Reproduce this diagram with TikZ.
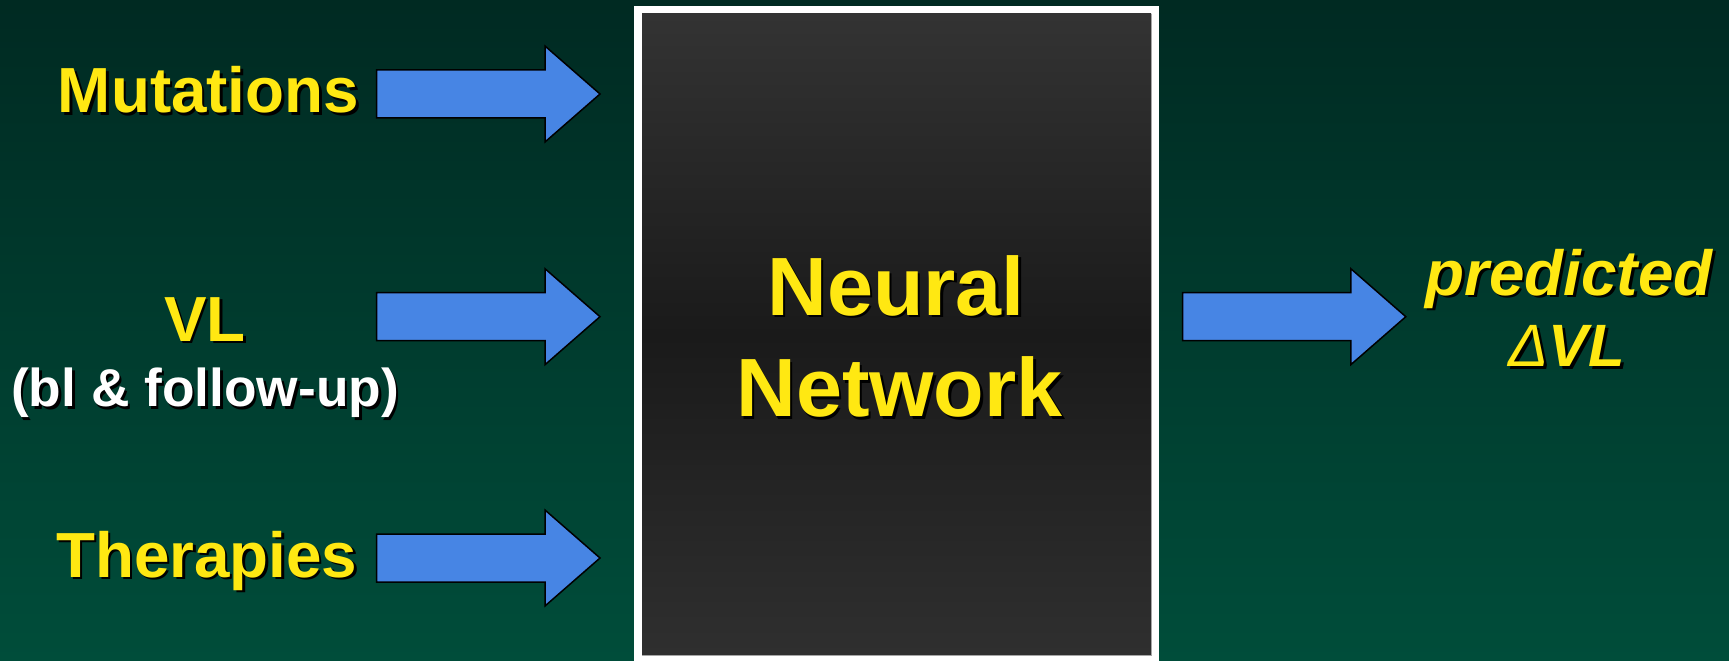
\documentclass[tikz,border=0pt]{standalone}
\usepackage{fontspec}
\setmainfont{Liberation Sans}
\definecolor{bgtop}{RGB}{0,42,34}
\definecolor{bgbot}{RGB}{0,77,58}
\definecolor{boxtop}{RGB}{51,51,51}
\definecolor{boxmid}{RGB}{26,26,26}
\definecolor{boxbot}{RGB}{47,47,47}
\definecolor{arrowblue}{RGB}{71,133,228}
\definecolor{labelyellow}{RGB}{255,232,18}
\newcommand{\shadowtext}[2]{\makebox[0pt][l]{\hspace{2.6bp}\raisebox{-2.6bp}{\color{black}#2}}\textcolor{#1}{#2}}
\tikzset{pics/blockarrow/.style={code={
  \draw[arrowfill] (0,-24) -- (168.3,-24) -- (168.3,-48) -- (223.3,0) -- (168.3,48) -- (168.3,24) -- (0,24) -- cycle;
}}}
\begin{document}
\begin{tikzpicture}[x=1bp, y=-1bp,
  every node/.style={inner sep=0pt, outer sep=0pt, anchor=base},
  inlabel/.style={font=\fontsize{64}{76}\selectfont\bfseries},
  smalllabel/.style={font=\fontsize{53.5}{64}\selectfont\bfseries},
  boxlabel/.style={font=\fontsize{83}{100}\selectfont\bfseries},
  outlabel/.style={font=\fontsize{64}{76}\selectfont\bfseries\itshape},
  arrowfill/.style={fill=arrowblue, draw=black, line width=1.5bp, line join=miter}]
\useasboundingbox (0,0) rectangle (1729,661);
% Background
\shade[top color=bgtop, bottom color=bgbot] (0,0) rectangle (1729,661);

% Neural network box
\fill[white] (634,6) rectangle (1159,661);
\shade[top color=boxtop, bottom color=boxbot, middle color=boxmid] (642,14) rectangle (1151,655);
\draw[black!35, line width=1bp] (1151,14) -- (1151,655) -- (642,655);
\node[boxlabel] (neural) at (896,315) {\shadowtext{labelyellow}{Neural}};
\node[boxlabel] (network) at (899.5,416.7) {\shadowtext{labelyellow}{Network}};

% Inputs top to bottom
\node[inlabel] (mutations) at (208.5,112.7) {\shadowtext{labelyellow}{Mutations}};
\node[inlabel] (vl) at (205,341) {\shadowtext{labelyellow}{VL}};
\node[smalllabel] (vlnote) at (205,406.7) {\shadowtext{white}{(bl \& follow-up)}};
\node[inlabel] (therapies) at (206.7,577.3) {\shadowtext{labelyellow}{Therapies}};

% Arrows
\pic (mutarrow) at (376.7,94) {blockarrow};
\pic (vlarrow) at (376.7,316.7) {blockarrow};
\pic (therarrow) at (376.7,558) {blockarrow};
\pic (outarrow) at (1182.5,316.7) {blockarrow};

% Output
\node[outlabel] (predicted) at (1569,295) {\shadowtext{labelyellow}{predicted}};
\node[outlabel, font=\fontsize{60}{72}\selectfont\bfseries\itshape] (deltavl) at (1567,366.7) {\shadowtext{labelyellow}{{\mdseries Δ}VL}};
\end{tikzpicture}
\end{document}
